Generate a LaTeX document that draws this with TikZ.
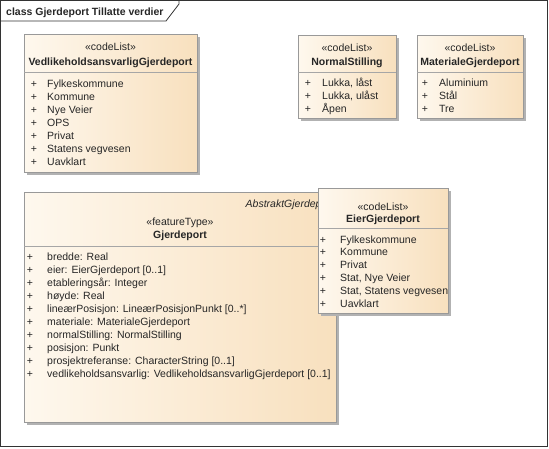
\documentclass[tikz,border=0pt]{standalone}
\usepackage{fontspec}
\setmainfont{Liberation Sans}
\definecolor{boksv}{RGB}{254,248,238}
\definecolor{boksh}{RGB}{248,224,190}

\begin{document}
\begin{tikzpicture}[x=1pt,y=-1pt,
    ramme/.style={draw=black!80, line width=0.8pt},
    skygge/.style={fill=black!30},
    klasse/.style={left color=boksv, right color=boksh, draw=black!40, line width=0.6pt},
    skille/.style={draw=black!35, line width=0.6pt},
    tekst/.style={inner sep=0pt, text=black!85, font=\fontsize{10.5}{13}\selectfont},
    stereo/.style={tekst, anchor=base},
    navn/.style={tekst, anchor=base, font=\fontsize{10.5}{13}\selectfont\bfseries},
    pluss/.style={tekst, anchor=base},
    verdi/.style={tekst, anchor=base west}]

    \useasboundingbox (0,0) rectangle (549,448);

    % ramme
    \draw[ramme] (0.5,0.5) rectangle (547.5,446.5);
    \draw[ramme] (0.5,21) -- (166,21) -- (179,4) -- (179,0.5);
    \node[tekst, anchor=base west, font=\fontsize{10.5}{13}\selectfont\bfseries] (tittel) at (6,15) {class Gjerdeport Tillatte verdier};

    % VedlikeholdsansvarligGjerdeport
    \fill[skygge] (27,37) rectangle (200,175);
    \shade[klasse] (24,34) rectangle (197,172);
    \draw[skille] (24,72) -- (197,72);
    \node[stereo] (vedl-s) at (110.5,50) {«codeList»};
    \node[navn] (vedl-n) at (110.5,65) {VedlikeholdsansvarligGjerdeport};
    \foreach \v [count=\i from 0] in {Fylkeskommune, Kommune, Nye Veier, OPS, Privat, Statens vegvesen, Uavklart} {
        \node[pluss] (vedl-p\i) at (34,87+13*\i) {+};
        \node[verdi] (vedl-v\i) at (47,87+13*\i) {\v};
    }

    % NormalStilling
    \fill[skygge] (301,38) rectangle (399,121);
    \shade[klasse] (298,35) rectangle (396,118);
    \draw[skille] (298,72) -- (396,72);
    \node[stereo] (norm-s) at (347,51) {«codeList»};
    \node[navn] (norm-n) at (347,65) {NormalStilling};
    \foreach \v [count=\i from 0] in {{Lukka, låst}, {Lukka, ulåst}, Åpen} {
        \node[pluss] (norm-p\i) at (308,86+13*\i) {+};
        \node[verdi] (norm-v\i) at (322,86+13*\i) {\v};
    }

    % MaterialeGjerdeport
    \fill[skygge] (420,38) rectangle (526,121);
    \shade[klasse] (417,35) rectangle (523,118);
    \draw[skille] (417,72) -- (523,72);
    \node[stereo] (mat-s) at (470,51) {«codeList»};
    \node[navn] (mat-n) at (470,65) {MaterialeGjerdeport};
    \foreach \v [count=\i from 0] in {Aluminium, Stål, Tre} {
        \node[pluss] (mat-p\i) at (425,86+13*\i) {+};
        \node[verdi] (mat-v\i) at (439,86+13*\i) {\v};
    }

    % Gjerdeport
    \fill[skygge] (27,195) rectangle (339,425);
    \shade[klasse] (24,192) rectangle (336,422);
    \draw[skille] (24,246) -- (336,246);
    \node[tekst, anchor=base east, font=\fontsize{10.5}{13}\selectfont\itshape] (gj-abs) at (334,207) {AbstraktGjerdeport};
    \node[stereo] (gj-s) at (180,225) {«featureType»};
    \node[navn] (gj-n) at (180,238) {Gjerdeport};
    \foreach \v [count=\i from 0] in {bredde: Real, eier: EierGjerdeport [0..1], etableringsår: Integer, høyde: Real,
        lineærPosisjon: LineærPosisjonPunkt [0..*], materiale: MaterialeGjerdeport, normalStilling: NormalStilling,
        posisjon: Punkt, prosjektreferanse: CharacterString [0..1], vedlikeholdsansvarlig: VedlikeholdsansvarligGjerdeport [0..1]} {
        \node[pluss] (gj-p\i) at (30,260+13*\i) {+};
        \node[verdi] (gj-v\i) at (47,260+13*\i) {\v};
    }

    % EierGjerdeport
    \fill[skygge] (321,191) rectangle (451,316);
    \shade[klasse] (318,188) rectangle (448,313);
    \draw[skille] (318,228) -- (448,228);
    \node[stereo] (eier-s) at (383,210) {«codeList»};
    \node[navn] (eier-n) at (383,222) {EierGjerdeport};
    \foreach \v [count=\i from 0] in {Fylkeskommune, Kommune, Privat, {Stat, Nye Veier}, {Stat, Statens vegvesen}, Uavklart} {
        \node[pluss] (eier-p\i) at (323,243+12.8*\i) {+};
        \node[verdi] (eier-v\i) at (340,243+12.8*\i) {\v};
    }

\end{tikzpicture}
\end{document}
